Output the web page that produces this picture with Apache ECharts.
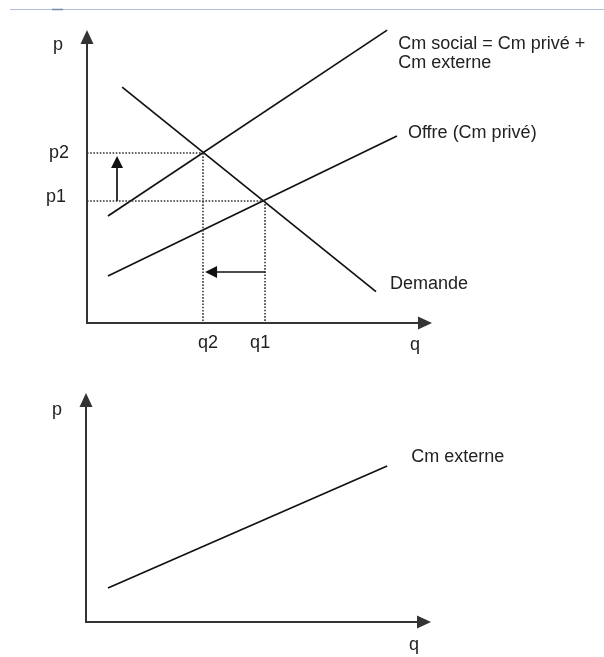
<!DOCTYPE html>
<html>
<head>
<meta charset="utf-8">
<script src="https://cdn.jsdelivr.net/npm/echarts@6/dist/echarts.min.js"></script>
<style>
  html, body { margin: 0; padding: 0; background: #fff; }
  #main { width: 604px; height: 657px; }
</style>
</head>
<body>
<div id="main"></div>
<script>
// equilibre avant / après internalisation
var q2 = 34.3, q1 = 52.7;
var p2 = 59.4, p1 = 42.7;

// courbes, points [q, p]
var cmSocial = [[6.2, 37.4], [88.8, 102.4]];
var offre = [[6.2, 16.4], [91.7, 65.4]];
var demande = [[10.4, 82.5], [85.5, 11.0]];
var cmExterne = [[6.5, 15.3], [89.1, 70.3]];

// flèches de déplacement
var arrowUp = [[8.9, p1], [8.9, 56.3]];
var arrowLeft = [[q1, 17.8], [36.7, 17.8]];

var font = "'Liberation Sans', Arial, sans-serif";
var ink = "#222";

var chart = echarts.init(document.getElementById("main"));

function xAxisOf(gridIndex, padTop) {
  return {
    type: "value",
    gridIndex: gridIndex,
    min: 0,
    max: 100,
    name: "q",
    nameLocation: "end",
    nameGap: -10,
    nameTextStyle: {
      fontFamily: font, fontSize: 18, color: ink,
      align: "center", verticalAlign: "top", padding: [padTop, 0, 0, 0],
    },
    axisLine: {
      onZero: false,
      symbol: ["none", "triangle"],
      symbolSize: [13, 14],
      lineStyle: { color: "#333", width: 2 },
    },
    axisTick: { show: false },
    axisLabel: { show: false },
    splitLine: { show: false },
  };
}

function yAxisOf(gridIndex, gap) {
  return {
    type: "value",
    gridIndex: gridIndex,
    min: 0,
    max: 100,
    name: "p",
    nameLocation: "end",
    nameGap: gap,
    nameTextStyle: {
      fontFamily: font, fontSize: 18, color: ink,
      align: "right", verticalAlign: "middle", padding: [0, 24, 0, 0],
    },
    axisLine: {
      onZero: false,
      symbol: ["none", "triangle"],
      symbolSize: [13, 14],
      lineStyle: { color: "#333", width: 2 },
    },
    axisTick: { show: false },
    axisLabel: { show: false },
    splitLine: { show: false },
  };
}

function curve(name, data, gridIndex, offset, align) {
  return {
    name: name,
    type: "line",
    xAxisIndex: gridIndex,
    yAxisIndex: gridIndex,
    data: data,
    clip: false,
    symbol: "none",
    silent: true,
    lineStyle: { color: "#111", width: 1.7 },
    endLabel: {
      show: true,
      formatter: name,
      fontFamily: font,
      fontSize: 18,
      lineHeight: 19,
      color: ink,
      distance: 0,
      offset: offset,
      align: "left",
      verticalAlign: align || "middle",
    },
  };
}

function segment(from, to, label) {
  var first = { coord: from };
  if (label) first.label = label;
  return [first, { coord: to }];
}

var labelBase = { show: true, fontFamily: font, fontSize: 18, color: ink };

chart.setOption({
  animation: false,
  backgroundColor: "#fff",
  graphic: [
    {
      type: "line",
      shape: { x1: 10, y1: 9.5, x2: 604, y2: 9.5 },
      style: { stroke: "#aebfdc", lineWidth: 1 },
    },
    {
      type: "line",
      shape: { x1: 52, y1: 9.5, x2: 63, y2: 9.5 },
      style: { stroke: "#7288b0", lineWidth: 1.5 },
    },
  ],
  grid: [
    { left: 87, top: 37, width: 338, height: 286 },
    { left: 86, top: 400, width: 338, height: 222 },
  ],
  xAxis: [xAxisOf(0, 13), xAxisOf(1, 14)],
  yAxis: [yAxisOf(0, -8), yAxisOf(1, -10)],
  series: [
    curve("Cm social = Cm privé +\nCm externe", cmSocial, 0, [11, 4], "top"),
    curve("Offre (Cm privé)", offre, 0, [11, -3]),
    curve("Demande", demande, 0, [14, -8]),
    curve("Cm externe", cmExterne, 1, [24, -9]),
    {
      name: "repères",
      type: "line",
      data: [],
      clip: false,
      silent: true,
      markLine: {
        silent: true,
        symbol: "none",
        animation: false,
        lineStyle: { color: "#333", width: 1.6, type: [1.6, 1.6] },
        label: { show: false },
        data: [
          segment([0, p2], [q2, p2], Object.assign({}, labelBase, { position: "start", formatter: "p2", distance: 18 })),
          segment([0, p1], [q1, p1], Object.assign({}, labelBase, { position: "start", formatter: "p1", distance: 21, offset: [0, -4] })),
          segment([q2, p2], [q2, 0], Object.assign({}, labelBase, { position: "end", formatter: "q2", distance: 11, offset: [5, 0] })),
          segment([q1, p1], [q1, 0], Object.assign({}, labelBase, { position: "end", formatter: "q1", distance: 11, offset: [-5, 0] })),
        ],
      },
    },
    {
      name: "flèches",
      type: "line",
      data: [],
      clip: false,
      silent: true,
      markLine: {
        silent: true,
        symbol: ["none", "triangle"],
        symbolSize: 12,
        animation: false,
        lineStyle: { color: "#111", width: 1.7, type: "solid" },
        label: { show: false },
        data: [
          segment(arrowUp[0], arrowUp[1]),
          segment(arrowLeft[0], arrowLeft[1]),
        ],
      },
    },
  ],
});
</script>
</body>
</html>
